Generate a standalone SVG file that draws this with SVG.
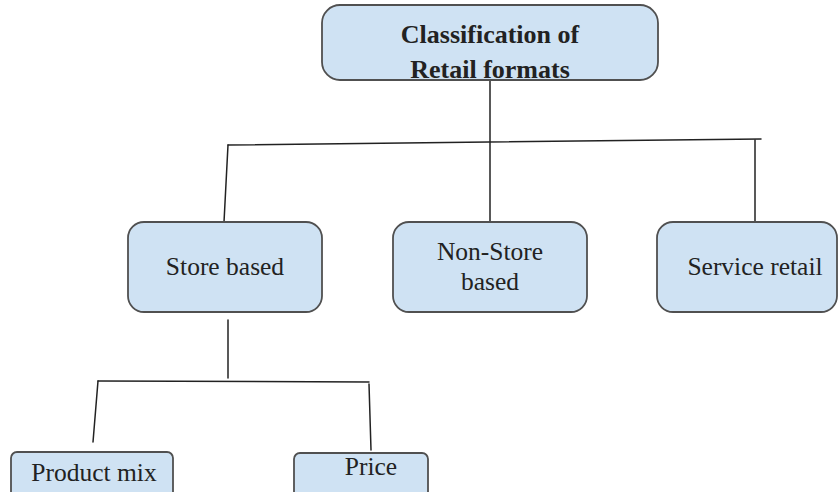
<svg xmlns="http://www.w3.org/2000/svg" width="840" height="492" viewBox="0 0 840 492">
  <style>
    .box { fill: #cfe2f3; stroke: #505050; stroke-width: 1.8; }
    .label { font-family: "Liberation Serif", "DejaVu Serif", serif; font-size: 25.5px; fill: #222; text-anchor: middle; }
    .title { font-weight: bold; font-size: 26px; }
    .wire { fill: none; stroke: #222; stroke-width: 1.5; stroke-linecap: round; }
  </style>
  <rect width="840" height="492" fill="#ffffff"/>

  <!-- tree connectors -->
  <g id="connectors">
    <line class="wire" x1="490" y1="81" x2="490" y2="222"/>
    <line class="wire" x1="228" y1="145" x2="761" y2="139"/>
    <line class="wire" x1="228" y1="145" x2="224" y2="222"/>
    <line class="wire" x1="755" y1="140" x2="755" y2="222"/>
    <line class="wire" x1="228" y1="320" x2="228" y2="378"/>
    <line class="wire" x1="98" y1="381" x2="369" y2="382"/>
    <line class="wire" x1="98" y1="381" x2="93" y2="442"/>
    <line class="wire" x1="369" y1="384" x2="371" y2="450"/>
  </g>

  <g id="root">
    <rect class="box" x="322" y="5" width="336" height="75" rx="18"/>
    <text class="label title" x="490" y="43">Classification of</text>
    <text class="label title" x="490" y="78">Retail formats</text>
  </g>

  <g id="store-based">
    <rect class="box" x="128" y="222" width="194" height="90" rx="16"/>
    <text class="label" x="225" y="275">Store based</text>
  </g>

  <g id="non-store-based">
    <rect class="box" x="393" y="222" width="194" height="90" rx="16"/>
    <text class="label" x="490" y="260">Non-Store</text>
    <text class="label" x="490" y="290">based</text>
  </g>

  <g id="service-retail">
    <rect class="box" x="657" y="222" width="180" height="90" rx="16"/>
    <text class="label" x="755" y="275">Service retail</text>
  </g>

  <g id="product-mix">
    <rect class="box" x="11" y="452" width="162" height="50" rx="6"/>
    <text class="label" x="94" y="481">Product mix</text>
  </g>

  <g id="price">
    <rect class="box" x="294" y="453" width="134" height="50" rx="6"/>
    <text class="label" x="371" y="475">Price</text>
  </g>
</svg>
